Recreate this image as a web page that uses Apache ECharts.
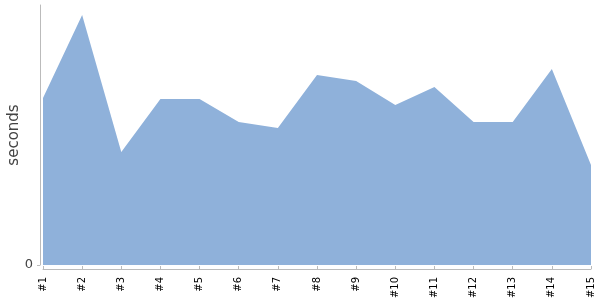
<!DOCTYPE html>
<html><head><meta charset="utf-8">
<script src="https://cdn.jsdelivr.net/npm/echarts@6/dist/echarts.min.js"></script>
<style>html,body{margin:0;padding:0;background:#fff}#c{width:600px;height:300px}</style>
</head><body><div id="c"></div>
<script>
const categories = ['#1','#2','#3','#4','#5','#6','#7','#8','#9','#10','#11','#12','#13','#14','#15'];
const seconds = [1.67,2.50,1.13,1.66,1.66,1.43,1.37,1.90,1.84,1.60,1.78,1.43,1.43,1.96,1.00];
const yTicks = [0];

const chart = echarts.init(document.getElementById('c'), null, {renderer:'canvas'});
chart.setOption({
  animation:false,
  grid:{left:43,right:9,top:5,bottom:35,containLabel:false,outerBoundsMode:'none'},
  xAxis:{
    type:'category', data:categories, boundaryGap:false, offset:4,
    axisLine:{show:true,onZero:false,lineStyle:{color:'#bbb',width:1}},
    axisTick:{show:true,inside:true,alignWithLabel:true,length:3,lineStyle:{color:'#bbb'}},
    axisLabel:{rotate:90,color:'#000',fontSize:10,fontFamily:'DejaVu Sans',margin:8,interval:0},
    splitLine:{show:false}
  },
  yAxis:{
    type:'value', min:0, max:2.6, offset:3,
    name:'seconds', nameLocation:'middle', nameGap:18, nameRotate:90, nameMoveOverlap:false,
    nameTextStyle:{fontSize:15,color:'#444',fontFamily:'DejaVu Sans'},
    axisLine:{show:true,lineStyle:{color:'#bbb'}},
    axisTick:{show:true,length:3,lineStyle:{color:'#bbb'},customValues:yTicks},
    axisLabel:{color:'#444',fontSize:13,fontFamily:'DejaVu Sans',margin:7,customValues:yTicks},
    splitLine:{show:false}
  },
  series:[{
    type:'line', data:seconds, symbol:'none',
    lineStyle:{width:0},
    areaStyle:{color:'#8fb1da',opacity:1}
  }]
});
</script></body></html>
